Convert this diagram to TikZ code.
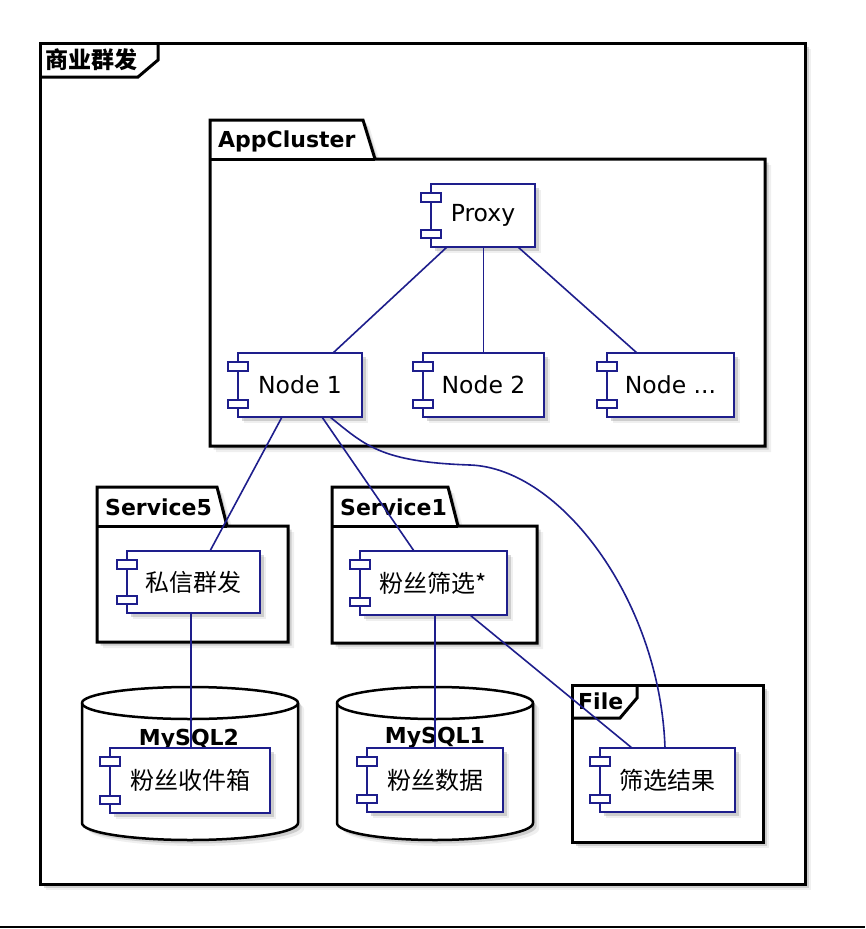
\documentclass[tikz,border=0pt]{standalone}
\usepackage{fontspec}
\setmainfont{DejaVu Sans}
\newfontfamily\cjk{Noto Sans CJK SC}
\usetikzlibrary{shadows,calc}
\definecolor{navy}{RGB}{30,30,140}
\newcommand{\compnode}[7]{%
  \node[comp, minimum width=#4, minimum height=#5, #7] (#1) at (#2,#3) {#6};
  \draw[compbar] ([xshift=-10pt,yshift=-9pt]#1.north west) rectangle ([xshift=10pt,yshift=-18pt]#1.north west);
  \draw[compbar] ([xshift=-10pt,yshift=9pt]#1.south west) rectangle ([xshift=10pt,yshift=17pt]#1.south west);
}
\begin{document}
\begin{tikzpicture}[x=1pt,y=-1pt,line join=miter,
  shade/.style={drop shadow={shadow xshift=6pt,shadow yshift=-6pt,opacity=0.12},
                drop shadow={shadow xshift=3.5pt,shadow yshift=-3.5pt,opacity=0.3}},
  frameline/.style={draw=black,line width=3pt,fill=white,shade},
  sepline/.style={draw=black,line width=3pt},
  comp/.style={draw=navy,line width=2.5pt,fill=white,inner sep=0pt,outer sep=0pt,
    font=\fontsize{23.5}{27}\selectfont,shade},
  cjkcomp/.style={font=\cjk\fontsize{24}{28}\selectfont},
  compbar/.style={draw=navy,line width=2.2pt,fill=white},
  conn/.style={draw=navy,line width=1.6pt},
  pkglabel/.style={font=\bfseries\fontsize{22}{26}\selectfont,inner sep=0pt,anchor=base west},
  dblabel/.style={font=\bfseries\fontsize{22}{26}\selectfont,inner sep=0pt,anchor=base}]
\useasboundingbox (0,0) rectangle (865,929);

% outer frame
\path[frameline] (40,43) rectangle (805,884);
\draw[sepline] (40,77) -- (138,77) -- (158,60) -- (158,43);
\node[font=\cjk\bfseries\fontsize{23}{27}\selectfont,inner sep=0pt,anchor=west] (title) at (45,60) {商业群发};

% AppCluster package
\path[frameline] (210,120) -- (363,120) -- (375,159) -- (765,159) -- (765,446) -- (210,446) -- cycle;
\draw[sepline] (210,159) -- (375,159);
\node[pkglabel] (appl) at (218,147) {AppCluster};

% Service5 package
\path[frameline] (97,487) -- (217,487) -- (227,526) -- (288,526) -- (288,642) -- (97,642) -- cycle;
\draw[sepline] (97,526) -- (227,526);
\node[pkglabel] (s5l) at (105,515) {Service5};

% Service1 package
\path[frameline] (332,487) -- (448,487) -- (458,526) -- (537,526) -- (537,643) -- (332,643) -- cycle;
\draw[sepline] (332,526) -- (458,526);
\node[pkglabel] (s1l) at (340,515) {Service1};

% File frame
\path[frameline] (572,685) rectangle (763,842);
\draw[sepline] (572,718) -- (620,718) -- (637,698) -- (637,685);
\node[pkglabel] (filel) at (578,709) {File};

% MySQL2 cylinder
\path[draw=black,line width=2.5pt,fill=white,shade]
  (82,703) -- (82,823) .. controls (82,832.4) and (130.4,840) .. (190,840)
  .. controls (249.6,840) and (298,832.4) .. (298,823) -- (298,703)
  .. controls (298,694.2) and (249.6,687) .. (190,687)
  .. controls (130.4,687) and (82,694.2) .. (82,703) -- cycle;
\draw[black,line width=2.5pt] (82,703) .. controls (82,711.8) and (130.4,719) .. (190,719)
  .. controls (249.6,719) and (298,711.8) .. (298,703);
\node[dblabel] (db2l) at (189,745) {MySQL2};

% MySQL1 cylinder
\path[draw=black,line width=2.5pt,fill=white,shade]
  (337,703) -- (337,823) .. controls (337,832.4) and (380.9,840) .. (435,840)
  .. controls (489.1,840) and (533,832.4) .. (533,823) -- (533,703)
  .. controls (533,694.2) and (489.1,687) .. (435,687)
  .. controls (380.9,687) and (337,694.2) .. (337,703) -- cycle;
\draw[black,line width=2.5pt] (337,703) .. controls (337,711.8) and (380.9,719) .. (435,719)
  .. controls (489.1,719) and (533,711.8) .. (533,703);
\node[dblabel] (db1l) at (435,743) {MySQL1};

% components
\compnode{proxy}{483}{215.5}{104pt}{63pt}{Proxy}{}
\compnode{n1}{300}{385}{124pt}{64pt}{Node 1}{}
\compnode{n2}{483.5}{385}{121pt}{64pt}{Node 2}{}
\compnode{n3}{670.5}{385}{127pt}{64pt}{Node ...}{}
\compnode{sx}{193.5}{582}{133pt}{62pt}{私信群发}{cjkcomp}
\compnode{fs}{433.5}{583}{147pt}{64pt}{粉丝筛选*}{cjkcomp}
\compnode{sj}{190}{780.5}{160pt}{65pt}{粉丝收件箱}{cjkcomp}
\compnode{fd}{435}{780}{136pt}{64pt}{粉丝数据}{cjkcomp}
\compnode{jg}{667.5}{780}{135pt}{64pt}{筛选结果}{cjkcomp}

% connectors
\draw[conn] ([xshift=-36pt]proxy.south) -- ([xshift=33pt]n1.north);
\draw[conn] ([xshift=0.5pt]proxy.south) -- (n2.north);
\draw[conn] ([xshift=35pt]proxy.south) -- ([xshift=-33.5pt]n3.north);
\draw[conn] ([xshift=-18pt]n1.south) -- ([xshift=16.5pt]sx.north);
\draw[conn] ([xshift=22pt]n1.south) -- ([xshift=-19.5pt]fs.north);
\draw[conn] ([xshift=30pt]n1.south) .. controls (365,445) and (380,462) .. (470,465)
  .. controls (560,468) and (660,600) .. ([xshift=-2.5pt]jg.north);
\draw[conn] ([xshift=-2.5pt]sx.south) -- ([xshift=1pt]sj.north);
\draw[conn] ([xshift=1.5pt]fs.south) -- (fd.north);
\draw[conn] ([xshift=36.5pt]fs.south) -- ([xshift=-35.5pt]jg.north);

% bottom rule
\draw[black,line width=2.5pt] (0,927) -- (865,927);
\end{tikzpicture}
\end{document}
